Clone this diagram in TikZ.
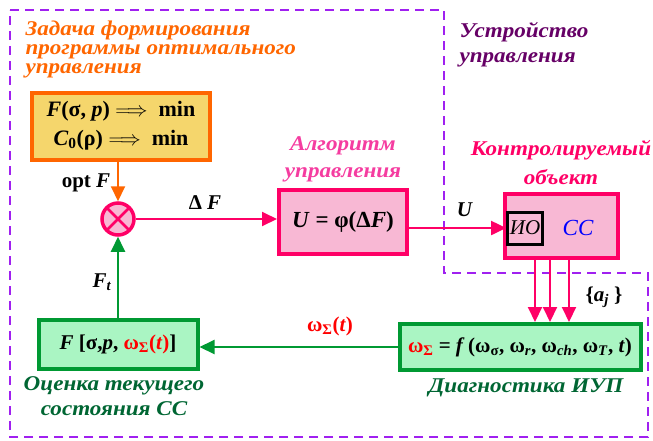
\documentclass[tikz,border=0pt]{standalone}
\usepackage{fontspec}
\setmainfont{Liberation Serif}
\newfontfamily\capfont{Liberation Serif}[FakeStretch=1.1]
\usetikzlibrary{arrows.meta, positioning}
\definecolor{frame}{RGB}{160,32,240}
\definecolor{orng}{RGB}{255,102,0}
\definecolor{yell}{RGB}{245,214,108}
\definecolor{crim}{RGB}{255,0,102}
\definecolor{pinkfill}{RGB}{248,184,212}
\definecolor{pinktext}{RGB}{245,60,160}
\definecolor{grn}{RGB}{0,153,51}
\definecolor{grnfill}{RGB}{170,245,195}
\definecolor{dgrn}{RGB}{0,102,51}
\definecolor{plum}{RGB}{102,0,102}
\definecolor{blu}{RGB}{0,0,255}
\newcommand{\vi}[1]{\textit{#1}}
\newcommand{\osum}{ω\textsubscript{Σ}}

\begin{document}
\begin{tikzpicture}[x=1pt, y=-1pt,
  box/.style={draw, line width=4pt, inner sep=0pt, align=center,
              font=\fontsize{21}{25}\selectfont\bfseries},
  captxt/.style={font=\fontsize{21}{19}\selectfont\capfont\bfseries\itshape, align=center},
  lbl/.style={font=\fontsize{21}{22}\selectfont\bfseries},
  arr/.style={-{Triangle[length=15pt,width=14pt]}, line width=2pt}
]
\useasboundingbox (0,0) rectangle (653,440);

%% Boundary of the control device
\draw[frame, line width=2pt, dash pattern=on 9pt off 6pt]
  (10,10) -- (444,10) -- (444,273) -- (648,273) -- (648,437) -- (10,437) -- cycle;

%% Captions
\node[captxt, orng, anchor=north west, align=left] (cap_task) at (22,17)
  {Задача формирования\\программы оптимального\\управления};
\node[captxt, plum, anchor=north west, align=left,
      font=\fontsize{21}{25}\selectfont\capfont\bfseries\itshape] (cap_dev) at (456,19)
  {Устройство\\управления};
\node[captxt, pinktext, font=\fontsize{21}{27}\selectfont\capfont\bfseries\itshape] (cap_algo) at (343,159)
  {Алгоритм\\управления};
\node[captxt, crim, font=\fontsize{21}{29}\selectfont\capfont\bfseries\itshape] (cap_obj) at (561,163)
  {Контролируемый\\объект};

%% Blocks
\node[box, draw=orng, fill=yell, minimum width=178pt, minimum height=67pt,
      font=\fontsize{22}{29}\selectfont\bfseries] (task) at (121,126)
  {\vi{F}(σ, \vi{p}) $\Longrightarrow$\ \ min\\
   \vi{C}\textsubscript{0}(ρ) $\Longrightarrow$\ \ min};
\node[draw=crim, fill=pinkfill, circle, line width=3.5pt, minimum size=32pt,
      inner sep=0pt] (sum) at (118,219) {};
\draw[crim, line width=2.5pt, shorten <=3pt, shorten >=3pt] (sum.45) -- (sum.225);
\draw[crim, line width=2.5pt, shorten <=3pt, shorten >=3pt] (sum.135) -- (sum.315);
\node[box, draw=crim, fill=pinkfill, minimum width=128pt, minimum height=64pt,
      font=\fontsize{23}{25}\selectfont\bfseries] (algo) at (343,222)
  {\vi{U} = φ(Δ\vi{F})};
\node[box, draw=crim, fill=pinkfill, minimum width=113pt, minimum height=64pt] (obj) at (561,226) {};
\node[draw=black, line width=3pt, minimum width=35pt, minimum height=32pt, inner sep=0pt,
      font=\fontsize{21}{22}\selectfont\itshape] (io) at (525,228) {ИО};
\node[font=\fontsize{23}{22}\selectfont\itshape, blu] (cc) at (578,228) {СС};
\node[box, draw=grn, fill=grnfill, minimum width=241pt, minimum height=46pt] (diag) at (520,347)
  {\textcolor{red}{\osum} = \vi{f}\,(ω\textsubscript{σ}, ω\textsubscript{\vi{r}}, ω\textsubscript{\vi{ch}}, ω\textsubscript{\vi{T}}, \vi{t})};
\node[box, draw=grn, fill=grnfill, minimum width=159pt, minimum height=49pt] (est) at (118,344)
  {\vi{F} [σ,\vi{p}, \textcolor{red}{\osum(\vi{t})}]};
\node[captxt, dgrn, font=\fontsize{21}{25}\selectfont\capfont\bfseries\itshape] (cap_est) at (114,396)
  {Оценка текущего\\состояния СС};
\node[captxt, dgrn] (cap_diag) at (526,388) {Диагностика ИУП};

%% Feedback taps
\coordinate (a1) at (535,0);
\coordinate (a2) at (550,0);
\coordinate (a3) at (569,0);

%% Arrows
\draw[arr, orng] (task.south -| sum) -- (sum);
\draw[arr, crim] (sum) -- (sum -| algo.west);
\draw[arr, crim, line width=2.5pt] (algo.east |- io.west) -- (io.west);
\foreach \a in {a1,a2,a3}
  \draw[arr, crim] (\a |- obj.south) -- (\a |- diag.north);
\draw[arr, grn] (diag.west) -- (diag.west -| est.east);
\draw[arr, grn] (est) -- (sum);

%% Labels
\node[lbl] (l_opt) at (86,183) {opt \vi{F}};
\node[lbl] (l_df) at (205,203) {Δ \vi{F}};
\node[lbl] (l_u) at (465,210) {\vi{U}};
\node[lbl] (l_ft) at (102,282) {\vi{F}\textsubscript{\vi{t}}};
\node[lbl, red] (l_w) at (330,326) {\osum(\vi{t})};
\node[lbl] (l_aj) at (604,297) {\{\vi{a}\textsubscript{\vi{j}} \}};

\end{tikzpicture}
\end{document}
